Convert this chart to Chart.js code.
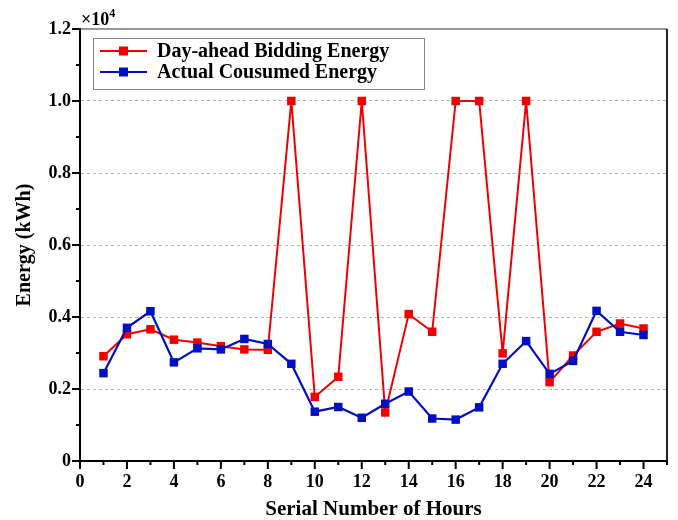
<!DOCTYPE html>
<html>
<head>
<meta charset="utf-8">
<script src="https://cdn.jsdelivr.net/npm/chart.js@4"></script>
<style>
  html, body { margin: 0; padding: 0; background: #fff; }
  #wrap { width: 678px; height: 520px; }
</style>
</head>
<body>
<div id="wrap"><canvas id="energyChart" width="678" height="520"></canvas></div>
<script>
// Hourly energy, kWh
const hours = [1, 2, 3, 4, 5, 6, 7, 8, 9, 10, 11, 12, 13, 14, 15, 16, 17, 18, 19, 20, 21, 22, 23, 24];
const bidding = [2910, 3520, 3660, 3370, 3290, 3190, 3100, 3090, 10000, 1780, 2340, 10000,
                 1350, 4080, 3590, 10000, 10000, 2990, 10000, 2190, 2930, 3590, 3820, 3680];
const consumed = [2440, 3700, 4160, 2740, 3130, 3100, 3390, 3250, 2700, 1370, 1500, 1200,
                  1590, 1930, 1180, 1150, 1490, 2700, 3330, 2420, 2780, 4170, 3590, 3500];
const seriesNames = ['Day-ahead Bidding Energy', 'Actual Cousumed Energy'];
const seriesColors = ['#f00000', '#0010c0'];

const FONT = '"Liberation Serif", "Times New Roman", serif';

const toPoints = vals => vals.map((v, i) => ({ x: hours[i], y: v }));

// minor/major ticks, frame, x10^4 label and boxed legend
const decorations = {
  id: 'decorations',
  afterDraw(chart) {
    const ctx = chart.ctx;
    const area = chart.chartArea;
    const xs = chart.scales.x;
    const ys = chart.scales.y;
    ctx.save();
    ctx.strokeStyle = '#000';
    ctx.lineWidth = 2;
    ctx.beginPath();
    for (let h = 0; h <= 25; h++) {
      const px = xs.getPixelForValue(h);
      ctx.moveTo(px, area.bottom);
      ctx.lineTo(px, area.bottom + (h % 2 === 0 ? 8 : 4));
    }
    for (let v = 0; v <= 12000; v += 1000) {
      const py = ys.getPixelForValue(v);
      ctx.moveTo(area.left, py);
      ctx.lineTo(area.left - (v % 2000 === 0 ? 8 : 4), py);
    }
    ctx.stroke();

    // frame top and right
    ctx.lineWidth = 1.2;
    ctx.strokeStyle = '#333';
    ctx.beginPath();
    ctx.moveTo(area.left, area.top);
    ctx.lineTo(area.right, area.top);
    ctx.stroke();
    ctx.lineWidth = 2;
    ctx.strokeStyle = '#222';
    ctx.beginPath();
    ctx.moveTo(area.right, area.top);
    ctx.lineTo(area.right, area.bottom);
    ctx.stroke();

    // multiplier
    ctx.fillStyle = '#000';
    ctx.textBaseline = 'alphabetic';
    ctx.font = 'bold 18px ' + FONT;
    ctx.fillText('\u00d710', area.left + 1, area.top - 4);
    const w = ctx.measureText('\u00d710').width;
    ctx.font = 'bold 12px ' + FONT;
    ctx.fillText('4', area.left + 1 + w, area.top - 12);

    // legend
    const box = { left: area.left + 13, top: area.top + 9, right: 424, bottom: 89 };
    ctx.lineWidth = 1;
    ctx.strokeStyle = '#888';
    ctx.strokeRect(box.left + 0.5, box.top + 0.5, box.right - box.left, box.bottom - box.top);
    ctx.font = 'bold 20px ' + FONT;
    ctx.textBaseline = 'middle';
    [51, 72].forEach((y, i) => {
      ctx.strokeStyle = seriesColors[i];
      ctx.lineWidth = 2;
      ctx.beginPath();
      ctx.moveTo(box.left + 7, y);
      ctx.lineTo(box.left + 54, y);
      ctx.stroke();
      ctx.fillStyle = seriesColors[i];
      ctx.fillRect(box.left + 26, y - 4.5, 9, 9);
      ctx.fillStyle = '#000';
      ctx.fillText(seriesNames[i], box.left + 64, y + 1);
    });
    ctx.restore();
  }
};

const ctx = document.getElementById('energyChart').getContext('2d');
const energyChart = new Chart(ctx, {
  type: 'line',
  data: {
    datasets: [{
      label: seriesNames[0],
      data: toPoints(bidding),
      borderColor: seriesColors[0],
      backgroundColor: seriesColors[0],
      borderWidth: 2,
      pointStyle: 'rect',
      pointRadius: 6,
      pointBorderWidth: 0,
      order: 2
    }, {
      label: seriesNames[1],
      data: toPoints(consumed),
      borderColor: seriesColors[1],
      backgroundColor: seriesColors[1],
      borderWidth: 2.2,
      pointStyle: 'rect',
      pointRadius: 6,
      pointBorderWidth: 0,
      order: 1
    }]
  },
  options: {
    responsive: false,
    animation: false,
    layout: { padding: { top: 29, right: 6, left: 13, bottom: 0 } },
    plugins: { legend: { display: false }, tooltip: { enabled: false } },
    scales: {
      x: {
        type: 'linear',
        min: 0,
        max: 25,
        afterFit: scale => { scale.height = 59; },
        grid: { display: false, drawTicks: false },
        border: { display: true, color: '#000', width: 2 },
        ticks: {
          stepSize: 1,
          autoSkip: false,
          maxRotation: 0,
          padding: 11,
          color: '#000',
          font: { family: FONT, size: 18, weight: 'bold' },
          callback: v => (v % 2 === 0 ? String(v) : '')
        },
        title: {
          display: true,
          text: 'Serial Number of Hours',
          color: '#000',
          font: { family: FONT, size: 21, weight: 'bold', lineHeight: 1 },
          padding: { top: 0, bottom: 0 }
        }
      },
      y: {
        min: 0,
        max: 12000,
        afterFit: scale => { scale.width = 67; },
        grid: {
          drawTicks: false,
          color: c => (c.tick.value === 0 || c.tick.value === 12000 ? 'rgba(0,0,0,0)' : '#b4b4b4'),
          lineWidth: 1
        },
        border: { display: true, color: '#000', width: 2, dash: [3, 3] },
        ticks: {
          stepSize: 2000,
          padding: 9,
          color: '#000',
          font: { family: FONT, size: 18, weight: 'bold' },
          callback: v => (v === 0 ? '0' : (v / 10000).toFixed(1))
        },
        title: {
          display: true,
          text: 'Energy (kWh)',
          color: '#000',
          font: { family: FONT, size: 20, weight: 'bold' },
          padding: { top: 0, bottom: 0 }
        }
      }
    }
  },
  plugins: [decorations]
});
</script>
</body>
</html>
